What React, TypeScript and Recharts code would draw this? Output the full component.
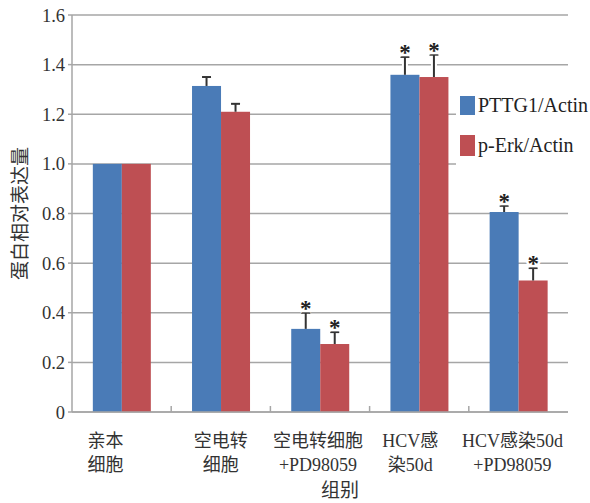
import { BarChart, Bar, XAxis, YAxis, CartesianGrid, Legend, Label } from "recharts";

// group labels (two lines each)
const groupLine1 = ["亲本", "空电转", "空电转细胞", "HCV感", "HCV感染50d"];
const groupLine2 = ["细胞", "细胞", "+PD98059", "染50d", "+PD98059"];

// relative expression
const pttg1 = [1.0, 1.314, 0.335, 1.359, 0.806];
const pErk = [1.0, 1.21, 0.274, 1.35, 0.53];
const pttg1Err = [0, 0.036, 0.065, 0.072, 0.025];
const pErkErr = [0, 0.032, 0.048, 0.09, 0.05];
const pttg1Sig = [false, false, true, true, true];
const pErkSig = [false, false, true, true, true];

const yTicks = [0, 0.2, 0.4, 0.6, 0.8, 1.0, 1.2, 1.4, 1.6];

const BLUE = "#4a7bb7";
const RED = "#be4f53";
const GRID = "#a6a6a6";
const TEXT = "#333";
const FONT = '"Liberation Serif", "Noto Sans CJK SC", serif';

const data = groupLine1.map((g, i) => ({
  group: `${g}${groupLine2[i]}`,
  pttg1: pttg1[i],
  pErk: pErk[i],
  pttg1Err: pttg1Err[i],
  pErkErr: pErkErr[i],
  pttg1Sig: pttg1Sig[i],
  pErkSig: pErkSig[i],
}));

// small nudges so labels sit where the original put them
const labelShift = [-16, 0, -2, -9, -6];

const makeBarShape = (fill: string, errKey: string, sigKey: string) => (props: any) => {
  const { x, y, width, height, payload, value } = props;
  const v = Array.isArray(value) ? value[1] : value;
  const perUnit = v ? height / v : 0;
  const err = payload[errKey] || 0;
  const capY = y - err * perUnit;
  const cx = x + width / 2;
  return (
    <g>
      <rect x={x} y={y} width={width} height={height} fill={fill} />
      {err > 0 && (
        <g>
          <line x1={cx} x2={cx} y1={y - 1} y2={capY - 2} stroke="#fff" strokeWidth={6} />
          <line x1={cx} x2={cx} y1={y} y2={capY} stroke="#333" strokeWidth={2} />
          <line x1={cx - 4.5} x2={cx + 4.5} y1={capY} y2={capY} stroke="#333" strokeWidth={2} />
        </g>
      )}
      {payload[sigKey] && (
        <text
          x={cx}
          y={capY + 3}
          textAnchor="middle"
          fontSize={23}
          fontWeight="bold"
          fontFamily={FONT}
          fill="#222"
          stroke="#fff"
          strokeWidth={5}
          paintOrder="stroke"
        >
          *
        </text>
      )}
    </g>
  );
};

const CategoryTick = (props: any) => {
  const { x, y, index, width, visibleTicksCount } = props;
  const band = (width || 496) / (visibleTicksCount || 5);
  const tx = x + labelShift[index];
  return (
    <g>
      {index < groupLine1.length - 1 && (
        <line x1={x + band / 2} x2={x + band / 2} y1={y} y2={y - 6} stroke={GRID} strokeWidth={1.5} />
      )}
      <text x={tx} y={y + 35} textAnchor="middle" fontSize={18} fontFamily={FONT} fill={TEXT}>
        {groupLine1[index]}
      </text>
      <text x={tx} y={y + 59} textAnchor="middle" fontSize={18} fontFamily={FONT} fill={TEXT}>
        {groupLine2[index]}
      </text>
    </g>
  );
};

const YTitle = (props: any) => {
  const { viewBox } = props;
  const cx = viewBox.x + 20;
  const cy = viewBox.y + viewBox.height / 2;
  return (
    <text
      x={cx}
      y={cy}
      transform={`rotate(-90 ${cx} ${cy})`}
      textAnchor="middle"
      dominantBaseline="central"
      fontSize={19}
      fontFamily={FONT}
      fill={TEXT}
    >
      蛋白相对表达量
    </text>
  );
};

const LegendContent = () => (
  <div style={{ position: "relative", width: 134, height: 90, background: "#fff", fontFamily: FONT, fontSize: 20, color: "#222" }}>
    <div style={{ position: "absolute", left: 4, top: 14, width: 15, height: 19, background: BLUE }} />
    <div style={{ position: "absolute", left: 22, top: 10, lineHeight: "26px" }}>PTTG1/Actin</div>
    <div style={{ position: "absolute", left: 4, top: 53, width: 15, height: 21, background: RED }} />
    <div style={{ position: "absolute", left: 22, top: 50, lineHeight: "26px" }}>p-Erk/Actin</div>
  </div>
);

export default function App() {
  return (
    <div style={{ position: "absolute", left: 0, top: 0, background: "#fff" }}>
      <BarChart
        width={590}
        height={503}
        data={data}
        margin={{ top: 15, right: 22, bottom: 0, left: 0 }}
        barCategoryGap="21%"
        barGap={0}
      >
        <CartesianGrid vertical={false} stroke={GRID} strokeWidth={1.5} />
        <XAxis
          dataKey="group"
          height={91}
          interval={0}
          tickLine={false}
          tickSize={0}
          tickMargin={0}
          axisLine={{ stroke: GRID, strokeWidth: 1.5 }}
          tick={<CategoryTick />}
        >
          <Label value="组别" position="insideBottom" offset={6} dx={20} fontSize={19} fontFamily={FONT} fill={TEXT} style={{ fill: TEXT }} />
        </XAxis>
        <YAxis
          width={72}
          domain={[0, 1.6]}
          ticks={yTicks}
          interval={0}
          tickSize={4}
          tickMargin={3}
          tickLine={{ stroke: GRID, strokeWidth: 1.5 }}
          axisLine={{ stroke: GRID, strokeWidth: 1.5 }}
          tickFormatter={(v: number) => (v === 0 ? "0" : v.toFixed(1))}
          tick={{ fontSize: 18.5, fontFamily: FONT, fill: TEXT }}
        >
          <Label content={<YTitle />} />
        </YAxis>
        <Legend
          layout="vertical"
          align="center"
          verticalAlign="middle"
          content={<LegendContent />}
          wrapperStyle={{ left: 456, top: 82, width: 134, height: 90 }}
        />
        <Bar dataKey="pttg1" name="PTTG1/Actin" fill={BLUE} isAnimationActive={false} shape={makeBarShape(BLUE, "pttg1Err", "pttg1Sig")} />
        <Bar dataKey="pErk" name="p-Erk/Actin" fill={RED} isAnimationActive={false} shape={makeBarShape(RED, "pErkErr", "pErkSig")} />
      </BarChart>
    </div>
  );
}
